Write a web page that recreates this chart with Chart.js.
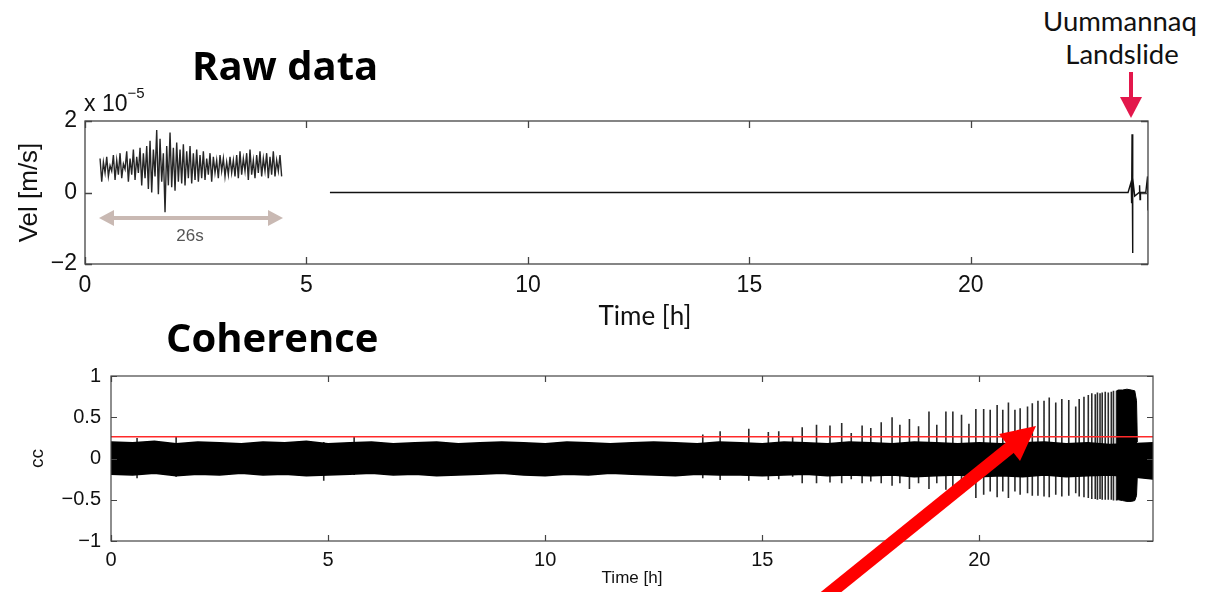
<!DOCTYPE html>
<html>
<head>
<meta charset="utf-8">
<script src="https://cdn.jsdelivr.net/npm/chart.js@4/dist/chart.umd.min.js"></script>
<style>
  body { margin: 0; width: 1206px; height: 592px; position: relative; background: #fff; overflow: hidden; }
  .box { position: absolute; left: 0; width: 1206px; }
  .lbl { position: absolute; line-height: 1; white-space: nowrap; color: #111; }
  .cal { font-family: Lato, "Open Sans", sans-serif; }
  .head { font-family: "Open Sans", Lato, sans-serif; font-weight: 700; font-size: 40px; color: #000; }
  .hel { font-family: "Liberation Sans", Arial, sans-serif; }
  svg { position: absolute; left: 0; top: 0; pointer-events: none; }
</style>
</head>
<body>
<div class="box" style="top:80px;height:260px"><canvas id="rawChart"></canvas></div>
<div class="box" style="top:340px;height:252px"><canvas id="cohChart"></canvas></div>

<div class="lbl head" style="left:192px;top:45px">Raw data</div>
<div class="lbl head" style="left:166px;top:317px">Coherence</div>
<div class="lbl cal" style="left:1020px;width:200px;text-align:center;top:7px;font-size:27.5px">Uummannaq</div>
<div class="lbl cal" style="left:1022px;width:200px;text-align:center;top:40px;font-size:27.5px">Landslide</div>
<div class="lbl cal" style="left:545px;width:200px;text-align:center;top:302px;font-size:26px">Time [h]</div>
<div class="lbl hel" style="left:84px;top:89px;font-size:23px">x 10<sup style="font-size:15px;position:relative;top:-4px">−5</sup></div>
<div class="lbl hel" style="left:150px;width:80px;text-align:center;top:227px;font-size:17px;color:#555">26s</div>

<svg width="1206" height="592">
  <!-- 26 s span arrow -->
  <line x1="110" y1="218" x2="272" y2="218" stroke="#c9b9b3" stroke-width="4"/>
  <polygon points="99,218 114,210 114,226" fill="#c9b9b3"/>
  <polygon points="283,218 268,210 268,226" fill="#c9b9b3"/>
  <!-- landslide marker -->
  <line x1="1131" y1="72" x2="1131" y2="100" stroke="#e3174b" stroke-width="4"/>
  <polygon points="1120,97 1142,97 1131,118" fill="#e3174b"/>
  <!-- big red arrow -->
  <line x1="815" y1="605" x2="1012" y2="446" stroke="#ff0000" stroke-width="13"/>
  <polygon points="1036,426 999,434 1020,461" fill="#ff0000"/>
</svg>

<script>
// ---- raw data panel (units of 1e-5 m/s) ----
const rawTicksX = [0, 5, 10, 15, 20];
const rawTicksY = [-2, 0, 2];
const rawTimes = [5.53, 23.55, 23.62, 23.63, 23.64, 23.65, 23.66, 23.7, 23.8, 23.81, 23.82, 23.83, 23.95, 23.99, 24.0, 24.0];
const rawVel   = [0, 0, 0.3, -0.3, 1.63, -1.69, 0.4, -0.1, 0, 0.2, -0.2, 0, 0, 0.45, -0.5, 0];

// inset: 26 s waveform, sampled evenly between insetStart and insetEnd (plotted on the hour axis)
const insetStart = 0.34;
const insetEnd = 4.44;
const insetVel = [
  0.95, 0.3, 0.85, 0.55, 1.0, 0.45, 0.75, 0.6, 1.05, 0.35, 0.9, 0.5, 1.1, 0.4, 0.8, 0.65, 1.15, 0.3, 0.95, 0.5, 1.2, 0.35, 1.0, 0.55, 1.25,
  0.2, 1.1, 0.4, 1.3, 0.1, 1.45, 0.0, 1.2, 0.45, 1.75, -0.05, 1.5, 0.3, 1.1, -0.55, 1.3, 0.2, 1.68, 0.15, 1.25, 0.05, 1.4, 0.3, 1.2, 0.25, 1.35, 0.2, 1.15, 0.4, 1.3, 0.25, 1.1, 0.35, 1.2, 0.3,
  1.05, 0.4, 1.15, 0.35, 0.95, 0.5, 1.1, 0.3, 1.0, 0.55, 0.9, 0.4, 1.05, 0.6, 0.95, 0.45, 0.85, 0.5, 1.0, 0.55, 0.9, 0.45, 1.05, 0.4, 1.15, 0.5, 0.95, 0.6, 1.1, 0.35, 1.2, 0.5, 0.9, 0.4, 1.05, 0.55, 1.15, 0.45, 0.95, 0.6, 1.1, 0.4, 1.0, 0.5, 1.15, 0.45, 0.9, 0.6, 1.05, 0.45
];

// ---- coherence panel ----
const cohTicksX = [0, 5, 10, 15, 20];
const cohTicksY = [-1, -0.5, 0, 0.5, 1];
const threshold = 0.265;
const bandTimes = [0,0.5,1,1.5,2,2.5,3,3.5,4,4.5,5,5.5,6,6.5,7,7.5,8,8.5,9,9.5,10,10.5,11,11.5,12,12.5,13,13.5,14,14.5,15,15.5,16,16.5,17,17.5,18,18.5,19,19.5,20,20.5,21,21.5,22,22.5,23,23.5,24];
const bandTop = [0.2,0.19,0.21,0.18,0.2,0.19,0.18,0.2,0.19,0.21,0.18,0.19,0.2,0.18,0.19,0.2,0.18,0.19,0.2,0.19,0.18,0.2,0.19,0.18,0.19,0.2,0.19,0.18,0.2,0.19,0.18,0.2,0.19,0.18,0.2,0.19,0.18,0.2,0.19,0.18,0.19,0.18,0.19,0.2,0.18,0.19,0.17,0.18,0.19];
const bandBottom = [-0.19,-0.2,-0.18,-0.21,-0.19,-0.2,-0.18,-0.2,-0.19,-0.21,-0.2,-0.19,-0.18,-0.2,-0.19,-0.21,-0.2,-0.19,-0.18,-0.2,-0.21,-0.19,-0.2,-0.18,-0.19,-0.2,-0.21,-0.19,-0.2,-0.2,-0.21,-0.2,-0.19,-0.21,-0.2,-0.21,-0.2,-0.22,-0.21,-0.2,-0.22,-0.21,-0.22,-0.2,-0.22,-0.21,-0.2,-0.22,-0.25];

const spikeTimes = [0.6, 1.5, 4.9, 5.6,
  13.63, 14.03, 14.69, 15.14, 15.38, 15.70, 15.92, 16.25, 16.56, 16.83, 17.05, 17.30, 17.50, 17.74, 17.99, 18.17, 18.39, 18.60, 18.84, 19.02,
  19.23, 19.39, 19.59, 19.76, 19.92, 20.10, 20.25, 20.41, 20.54, 20.67, 20.82, 20.94, 21.11, 21.22, 21.35, 21.49, 21.61, 21.76, 21.90, 22.06,
  22.22, 22.30, 22.41, 22.51, 22.59, 22.67, 22.72, 22.78, 22.83, 22.90, 22.97, 23.04, 23.09, 23.16];
const spikeTop = [0.25, 0.26, 0.2, 0.27,
  0.29, 0.33, 0.36, 0.32, 0.33, 0.26, 0.38, 0.41, 0.40, 0.43, 0.31, 0.40, 0.37, 0.44, 0.50, 0.41, 0.48, 0.39, 0.57, 0.41,
  0.57, 0.57, 0.53, 0.42, 0.60, 0.60, 0.59, 0.65, 0.59, 0.68, 0.59, 0.61, 0.63, 0.67, 0.70, 0.70, 0.74, 0.68, 0.72, 0.71,
  0.63, 0.72, 0.75, 0.77, 0.79, 0.78, 0.80, 0.79, 0.80, 0.81, 0.80, 0.81, 0.82, 0.82];
const spikeBottom = [-0.24, -0.22, -0.27, -0.2,
  -0.24, -0.26, -0.27, -0.26, -0.25, -0.22, -0.30, -0.30, -0.29, -0.30, -0.25, -0.30, -0.28, -0.30, -0.33, -0.30, -0.37, -0.30, -0.37, -0.30,
  -0.38, -0.36, -0.38, -0.32, -0.48, -0.44, -0.40, -0.47, -0.40, -0.48, -0.40, -0.44, -0.42, -0.45, -0.45, -0.46, -0.47, -0.44, -0.46, -0.45,
  -0.42, -0.46, -0.47, -0.48, -0.49, -0.49, -0.50, -0.49, -0.50, -0.50, -0.50, -0.50, -0.51, -0.51];

// solid burst right before the landslide
const blockTimes = [23.16, 23.2, 23.3, 23.4, 23.5, 23.58, 23.62, 23.64];
const blockTop = [0.82, 0.83, 0.83, 0.84, 0.83, 0.82, 0.7, 0.2];
const blockBottom = [-0.5, -0.5, -0.51, -0.52, -0.52, -0.51, -0.45, -0.2];

const pts = (xs, ys) => xs.map((x, i) => ({ x, y: ys[i] }));
const minus = v => String(v).replace('-', '\u2212');

// MATLAB style box with inward ticks on all four sides
const boxTicks = {
  id: 'boxTicks',
  afterDraw(chart, args, opts) {
    const { ctx, chartArea: a, scales: { x, y } } = chart;
    ctx.save();
    ctx.strokeStyle = opts.color;
    ctx.lineWidth = opts.width;
    ctx.strokeRect(a.left, a.top, a.right - a.left, a.bottom - a.top);
    ctx.beginPath();
    x.ticks.forEach(t => {
      const px = Math.round(x.getPixelForValue(t.value)) + 0.5;
      ctx.moveTo(px, a.bottom); ctx.lineTo(px, a.bottom - opts.len);
      ctx.moveTo(px, a.top); ctx.lineTo(px, a.top + opts.len);
    });
    y.ticks.forEach(t => {
      const py = Math.round(y.getPixelForValue(t.value)) + 0.5;
      ctx.moveTo(a.left, py); ctx.lineTo(a.left + opts.len, py);
      ctx.moveTo(a.right, py); ctx.lineTo(a.right - opts.len, py);
    });
    ctx.stroke();
    ctx.restore();
  }
};

function axis(ticks, size, fontSize, pad, extra) {
  return Object.assign({
    type: 'linear',
    grid: { display: false, drawTicks: false },
    border: { display: false },
    ticks: { color: '#111', font: { family: 'Liberation Sans', size: fontSize }, padding: pad, callback: minus, maxRotation: 0 },
    afterBuildTicks: s => { s.ticks = ticks.map(value => ({ value })); },
    afterFit: s => { if (s.isHorizontal()) s.height = size; else s.width = size; }
  }, extra);
}

const insetStep = (insetEnd - insetStart) / (insetVel.length - 1);
const insetPts = insetVel.map((v, i) => ({ x: insetStart + i * insetStep, y: v }));

new Chart(document.getElementById('rawChart'), {
  type: 'line',
  data: {
    datasets: [
      { data: pts(rawTimes, rawVel), borderColor: '#111', borderWidth: 1.4 },
      { data: insetPts, borderColor: '#262626', borderWidth: 1.4 }
    ]
  },
  options: {
    responsive: true, maintainAspectRatio: false, animation: false,
    layout: { padding: { top: 41, right: 58, left: 0, bottom: 0 } },
    elements: { point: { radius: 0 }, line: { tension: 0 } },
    plugins: { legend: { display: false }, tooltip: { enabled: false },
      boxTicks: { color: '#444', width: 1.3, len: 7 } },
    scales: {
      x: axis(rawTicksX, 76, 23, 8, { min: 0, max: 24 }),
      y: axis(rawTicksY, 85, 23, 8, { min: -2, max: 2,
        title: { display: true, text: 'Vel [m/s]', color: '#111', font: { family: 'Liberation Sans', size: 26 }, padding: { top: 14, bottom: 0 } } })
    }
  },
  plugins: [boxTicks]
});

// spikes drawn as vertical strokes separated by gaps
const spikePts = [];
spikeTimes.forEach((t, i) => {
  spikePts.push({ x: t, y: spikeBottom[i] }, { x: t, y: spikeTop[i] }, { x: t, y: null });
});

new Chart(document.getElementById('cohChart'), {
  type: 'line',
  data: {
    datasets: [
      { data: [{ x: 0, y: threshold }, { x: 24, y: threshold }], borderColor: '#ff2a2a', borderWidth: 1.5, order: 0 },
      { data: pts(blockTimes, blockTop), borderColor: '#000', borderWidth: 1, fill: '+1', backgroundColor: '#000', order: 1 },
      { data: pts(blockTimes, blockBottom), borderColor: '#000', borderWidth: 1, order: 1 },
      { data: pts(bandTimes, bandTop), borderColor: '#000', borderWidth: 1.5, fill: '+1', backgroundColor: '#000', order: 2 },
      { data: pts(bandTimes, bandBottom), borderColor: '#000', borderWidth: 1.5, order: 2 },
      { data: spikePts, borderColor: '#2a2a2a', borderWidth: 1.6, spanGaps: false, order: 3 }
    ]
  },
  options: {
    responsive: true, maintainAspectRatio: false, animation: false,
    layout: { padding: { top: 36, right: 53, left: 0, bottom: 0 } },
    elements: { point: { radius: 0 }, line: { tension: 0 } },
    plugins: { legend: { display: false }, tooltip: { enabled: false },
      boxTicks: { color: '#444', width: 1.2, len: 6 } },
    scales: {
      x: axis(cohTicksX, 51, 20, 7, { min: 0, max: 24,
        title: { display: true, text: 'Time [h]', color: '#111', font: { family: 'Liberation Sans', size: 17 }, padding: { top: 0, bottom: 3 } } }),
      y: axis(cohTicksY, 111, 20, 10, { min: -1, max: 1,
        title: { display: true, text: 'cc', color: '#111', font: { family: 'Liberation Sans', size: 19 }, padding: { top: 26, bottom: 0 } } })
    }
  },
  plugins: [boxTicks]
});
</script>
</body>
</html>
